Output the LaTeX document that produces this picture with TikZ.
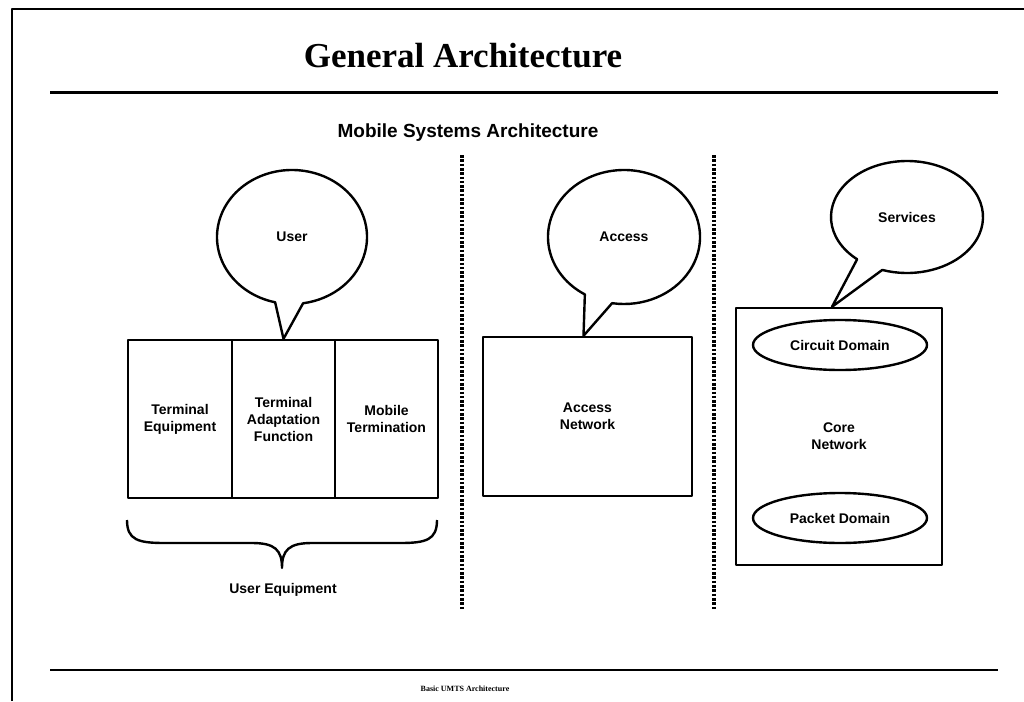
\documentclass[tikz,border=0pt]{standalone}
\usepackage{fontspec}
\setmainfont{Liberation Serif}
\setsansfont{Liberation Sans}
\usetikzlibrary{calc,shapes.geometric}

\newcommand{\lbl}{\sffamily\bfseries\fontsize{14}{17}\selectfont}
\tikzset{
  block/.style={draw,line width=2.4pt,inner sep=0pt,align=center,font=\lbl},
  dombox/.style={ellipse,draw,line width=2.4pt,inner sep=0pt,font=\lbl},
  bubble/.style={draw,line width=2.4pt},
  sep/.style={line width=3.2pt,dash pattern=on 2.6pt off 1.7pt},
  tag/.style={font=\lbl}
}

\begin{document}
\begin{tikzpicture}[x=1pt,y=-1pt,line join=round]
  \useasboundingbox (0,0) rectangle (1024,701);
  % page frame and rules
  \draw[line width=1.5pt] (12,701) -- (12,9) -- (1024,9);
  \draw[line width=3pt] (50,92) -- (998,92);
  \draw[line width=2.5pt] (50,670) -- (998,670);
  \node[font=\bfseries\fontsize{35}{40}\selectfont] (title) at (463,56) {General Architecture};
  \node[font=\sffamily\bfseries\fontsize{19}{22}\selectfont] (sub) at (468,133) {Mobile Systems Architecture};
  \node[font=\bfseries\fontsize{8}{9}\selectfont] (foot) at (465,689) {Basic UMTS Architecture};

  % dotted separators
  \coordinate (s1a) at (462,155); \coordinate (s1b) at (462,610);
  \coordinate (s2a) at (714,155); \coordinate (s2b) at (714,610);
  \draw[sep] (s1a) -- (s1b);
  \draw[sep] (s2a) -- (s2b);

  % user side
  \node[block,minimum width=104pt,minimum height=158pt] (te) at (180,419) {Terminal\\Equipment};
  \node[block,minimum width=103pt,minimum height=158pt] (taf) at (283.5,419) {Terminal\\Adaptation\\Function};
  \node[block,minimum width=103pt,minimum height=158pt] (mt) at (386.5,419) {Mobile\\Termination};
  \draw[line width=2.4pt] (127,520) .. controls (127,540) and (138,543) .. (165,543) -- (252,543)
    .. controls (275,543) and (282,550) .. (282,568) .. controls (282,550) and (289,543) .. (312,543)
    -- (400,543) .. controls (426,543) and (437,540) .. (437,520);
  \node[tag] (ue) at (283,590) {User Equipment};
  \node[tag] (user) at (292,237) {User};
  \draw[bubble] ($(user.center)+(103:75 and 67)$) arc[start angle=103,end angle=441.5,x radius=75,y radius=67]
    -- (taf.north) -- cycle;

  % access side
  \node[block,minimum width=209pt,minimum height=159pt] (an) at (587.5,416.5) {Access\\Network};
  \node[tag] (acc) at (624,237) {Access};
  \draw[bubble] ($(acc.center)+(121:76 and 67)$) arc[start angle=121,end angle=459,x radius=76,y radius=67]
    -- ([xshift=-4pt]an.north) -- cycle;

  % core side
  \node[block,minimum width=206pt,minimum height=257pt] (core) at (839,436.5) {Core\\Network};
  \node[dombox,minimum width=174pt,minimum height=50pt] (cd) at (840,345) {Circuit Domain};
  \node[dombox,minimum width=174pt,minimum height=50pt] (pd) at (840,518) {Packet Domain};
  \node[tag] (serv) at (907,217) {Services};
  \draw[bubble] ($(serv.center)+(131:76 and 56)$) arc[start angle=131,end angle=469,x radius=76,y radius=56]
    -- ([xshift=-7pt]core.north) -- cycle;
\end{tikzpicture}
\end{document}
